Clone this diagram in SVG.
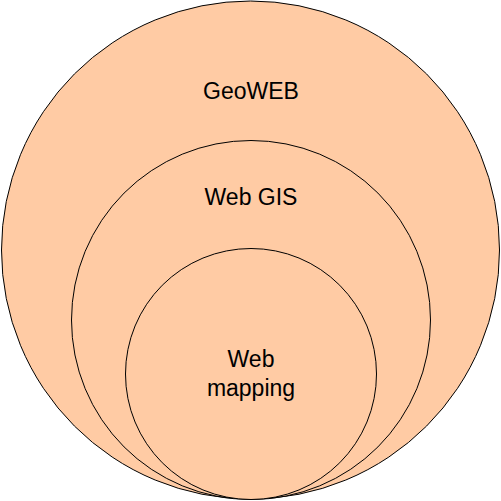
<svg xmlns="http://www.w3.org/2000/svg" width="501" height="501" viewBox="0 0 501 501">
<style>
.c{fill:#FFCBA4;stroke:#000;stroke-width:1}
.t{font-family:"Liberation Sans",Arial,sans-serif;font-size:23px;fill:#000;text-anchor:middle}
</style>
<rect width="501" height="501" fill="#fff"/>
<g id="geoweb">
<circle class="c" cx="250.5" cy="250" r="249"/>
<text class="t" x="251" y="99">GeoWEB</text>
</g>
<g id="webgis">
<circle class="c" cx="251" cy="320" r="179.5"/>
<text class="t" x="251" y="205">Web GIS</text>
</g>
<g id="webmapping">
<circle class="c" cx="251" cy="374" r="125.5"/>
<text class="t" x="251" y="367">Web</text>
<text class="t" x="251" y="396">mapping</text>
</g>
<g id="connectors"/>
</svg>
